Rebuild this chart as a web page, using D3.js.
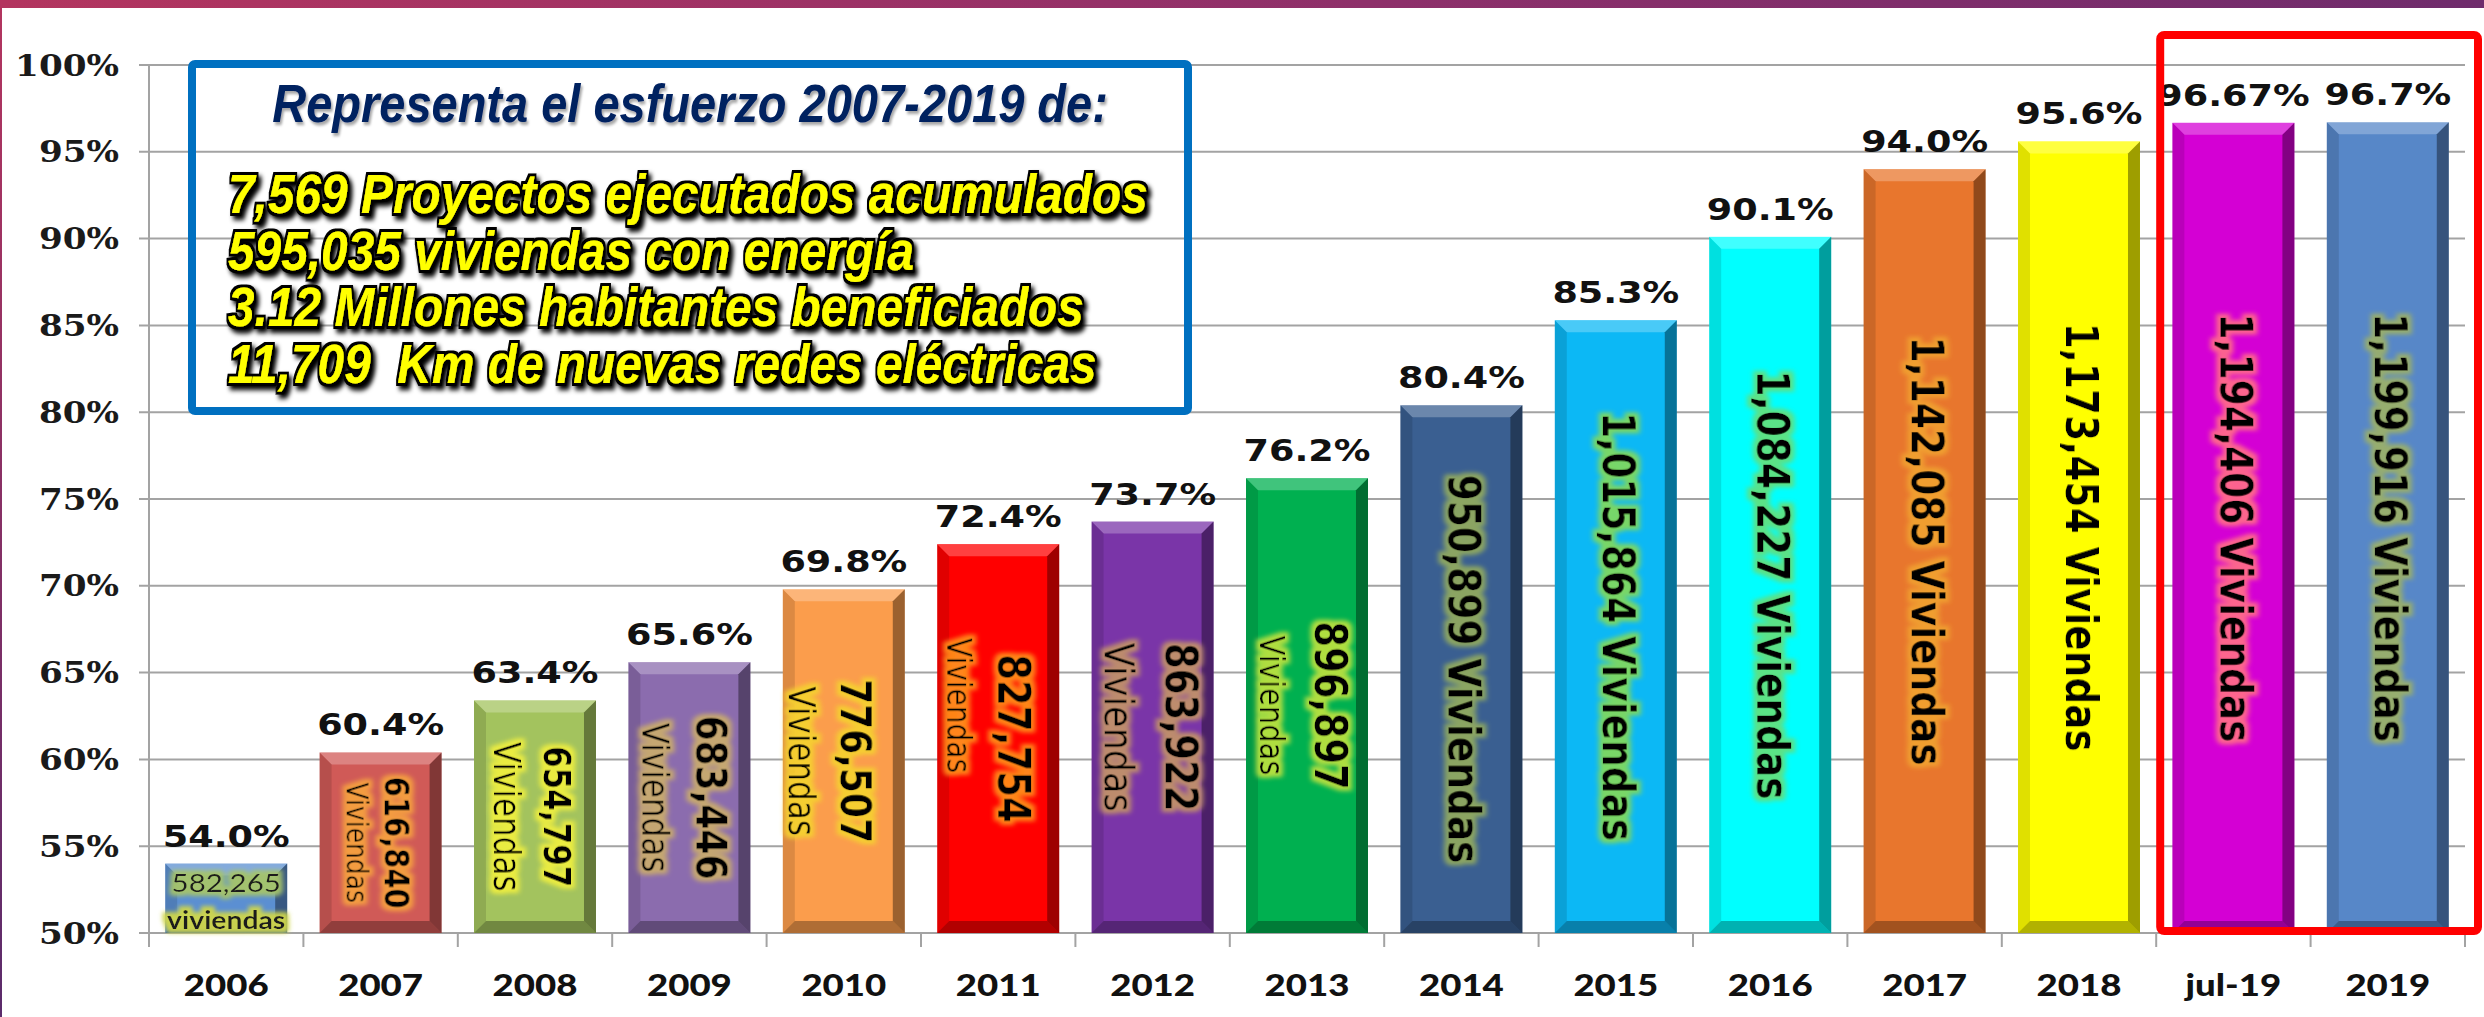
<!DOCTYPE html>
<html>
<head>
<meta charset="utf-8">
<script src="https://cdn.jsdelivr.net/npm/d3@7/dist/d3.min.js"></script>
<style>
  body { margin: 0; background: #fff; overflow: hidden; }
  svg { display: block; }
  text { white-space: pre; }
</style>
</head>
<body>
<svg id="chart"></svg>
<script>
// data
const categories = ["2006","2007","2008","2009","2010","2011","2012","2013","2014","2015","2016","2017","2018","jul-19","2019"]
const coverage = [54.0, 60.4, 63.4, 65.6, 69.8, 72.4, 73.7, 76.2, 80.4, 85.3, 90.1, 94.0, 95.6, 96.67, 96.7]
const coverageLabels = ["54.0%","60.4%","63.4%","65.6%","69.8%","72.4%","73.7%","76.2%","80.4%","85.3%","90.1%","94.0%","95.6%","96.67%","96.7%"]
const homes = ["582,265","616,840","654,797","683,446","776,507","827,754","863,922","896,897","950,899","1,015,864","1,084,227","1,142,085","1,173,454","1,194,406","1,199,916"]
const yTicks = [50, 55, 60, 65, 70, 75, 80, 85, 90, 95, 100]
const highlighted = ["jul-19", "2019"]

const summaryTitle = "Representa el esfuerzo 2007-2019 de:"
const summaryLines = [
  "7,569 Proyectos ejecutados acumulados",
  "595,035 viviendas con energía",
  "3.12 Millones habitantes beneficiados",
  "11,709  Km de nuevas redes eléctricas"
]

// styles
const barColors = ["#5b8fd2","#d05a57","#a3c35e","#8b6cae","#fb9d4c","#ff0000","#7a35a8","#00b050","#3a5f91","#0cb8f5","#00ffff","#e8762d","#ffff00","#d400d4","#5787c8"]
const glowColors = ["#a6c46a","#f5a040","#eeee40","#c8aa6e","#f5d030","#ff8c1a","#c0906a","#b8e040","#8fa860","#7ed860","#60e080","#f0a030","#ffff00","#ff6a8a","#9aaf6a"]
// two-line labels inside the smaller bars (font sizes and offsets from bar centre)
const twoLine = {
  "2007": {num: 29, viv: 25, dn: 16, dv: -24, vy: 0},
  "2008": {num: 31, viv: 31, dn: 21, dv: -29, vy: 0},
  "2009": {num: 36, viv: 31, dn: 22, dv: -35, vy: 0},
  "2010": {num: 36, viv: 31, dn: 12, dv: -43, vy: 0},
  "2011": {num: 37, viv: 28, dn: 15, dv: -40, vy: -33},
  "2012": {num: 37, viv: 35, dn: 28, dv: -33, vy: 0},
  "2013": {num: 37, viv: 29, dn: 23, dv: -35, vy: 0}
}

const W = 2484, H = 1017
const SX = 1.18   // the slide is stretched sideways, chart text too
const BOXSX = 0.87 // box text is the other way round: tall and narrow

const svg = d3.select("#chart").attr("width", W).attr("height", H)
const defs = svg.append("defs")

// slide frame
const band = defs.append("linearGradient").attr("id", "band")
band.append("stop").attr("offset", "0%").attr("stop-color", "#b3355f")
band.append("stop").attr("offset", "55%").attr("stop-color", "#8e306a")
band.append("stop").attr("offset", "100%").attr("stop-color", "#6f2c6c")
const edge = defs.append("linearGradient").attr("id", "edge").attr("x1", 0).attr("x2", 0).attr("y1", 0).attr("y2", 1)
edge.append("stop").attr("offset", "0%").attr("stop-color", "#b3355f")
edge.append("stop").attr("offset", "100%").attr("stop-color", "#5b2b6b")

function glow(id, color, r, blur) {
  const f = defs.append("filter").attr("id", id)
    .attr("x", "-30%").attr("y", "-30%").attr("width", "160%").attr("height", "160%")
  f.append("feMorphology").attr("in", "SourceAlpha").attr("operator", "dilate").attr("radius", r).attr("result", "d")
  f.append("feGaussianBlur").attr("in", "d").attr("stdDeviation", blur).attr("result", "b")
  f.append("feFlood").attr("flood-color", color).attr("flood-opacity", 0.95)
  f.append("feComposite").attr("in2", "b").attr("operator", "in").attr("result", "g")
  const m = f.append("feMerge")
  m.append("feMergeNode").attr("in", "g")
  m.append("feMergeNode").attr("in", "SourceGraphic")
}
glowColors.forEach((c, i) => glow("glow" + i, c, 3.5, 2.2))
glow("glowViv", "#cfd64a", 4, 2)

// black halo + drop shadow for the yellow lines
const ys = defs.append("filter").attr("id", "yellowShadow")
  .attr("x", "-5%").attr("y", "-30%").attr("width", "110%").attr("height", "160%")
ys.append("feMorphology").attr("in", "SourceAlpha").attr("operator", "dilate").attr("radius", 2.6).attr("result", "d")
ys.append("feOffset").attr("in", "d").attr("dx", 3).attr("dy", 4).attr("result", "o")
ys.append("feGaussianBlur").attr("in", "o").attr("stdDeviation", 2.5).attr("result", "b")
const ym = ys.append("feMerge")
ym.append("feMergeNode").attr("in", "b")
ym.append("feMergeNode").attr("in", "d")
ym.append("feMergeNode").attr("in", "SourceGraphic")

const ts = defs.append("filter").attr("id", "titleShadow")
ts.append("feDropShadow").attr("dx", 2).attr("dy", 3).attr("stdDeviation", 1.5).attr("flood-color", "#000").attr("flood-opacity", 0.35)

svg.append("rect").attr("x", 0).attr("y", 0).attr("width", W).attr("height", H).attr("fill", "#fff")
svg.append("rect").attr("x", 0).attr("y", 0).attr("width", W).attr("height", 8).attr("fill", "url(#band)")
svg.append("rect").attr("x", 0).attr("y", 0).attr("width", 2).attr("height", H).attr("fill", "url(#edge)")

// scales
const x = d3.scaleBand().domain(categories).range([149, 2465]).paddingInner(0.21).paddingOuter(0.105)
const y = d3.scaleLinear().domain([50, 100]).range([933, 65])
const step = x.step()
const gap = (step - x.bandwidth()) / 2

// gridlines + y labels
const grid = svg.append("g")
grid.selectAll("line").data(yTicks).enter().append("line")
  .attr("x1", 139).attr("x2", 2465)
  .attr("y1", d => y(d)).attr("y2", d => y(d))
  .attr("stroke", "#a3a3a3").attr("stroke-width", 2)
grid.append("line").attr("x1", 149).attr("x2", 149).attr("y1", y(100)).attr("y2", y(50) + 14)
  .attr("stroke", "#a3a3a3").attr("stroke-width", 2)
grid.selectAll(".xt").data(d3.range(categories.length + 1)).enter().append("line")
  .attr("class", "xt")
  .attr("x1", d => x.range()[0] + d * step).attr("x2", d => x.range()[0] + d * step)
  .attr("y1", y(50)).attr("y2", y(50) + 14)
  .attr("stroke", "#a3a3a3").attr("stroke-width", 2)

svg.append("g").selectAll("text").data(yTicks).enter().append("text")
  .attr("transform", d => `translate(119,${y(d)}) scale(${SX},1)`)
  .attr("text-anchor", "end").attr("dominant-baseline", "central")
  .attr("font-family", "DejaVu Serif").attr("font-weight", "bold").attr("font-size", 29)
  .attr("fill", "#1a1a1a")
  .text(d => d + "%")

// x labels
svg.append("g").selectAll("text").data(categories).enter().append("text")
  .attr("transform", d => `translate(${x(d) + x.bandwidth() / 2},996) scale(${SX},1)`)
  .attr("text-anchor", "middle")
  .attr("font-family", "Lato").attr("font-weight", "900").attr("font-size", 31)
  .attr("fill", "#111")
  .text(d => d)

// summary box
const box = svg.append("g")
box.append("rect").attr("x", 192).attr("y", 64).attr("width", 996).attr("height", 347)
  .attr("rx", 3).attr("fill", "none").attr("stroke", "#0070c0").attr("stroke-width", 8)
box.append("text")
  .attr("transform", `translate(690,122) scale(${BOXSX},1)`)
  .attr("text-anchor", "middle")
  .attr("font-family", "Liberation Sans").attr("font-weight", "bold").attr("font-style", "italic")
  .attr("font-size", 54).attr("fill", "#002060").attr("filter", "url(#titleShadow)")
  .text(summaryTitle)
box.selectAll(".line").data(summaryLines).enter().append("text")
  .attr("class", "line")
  .attr("transform", (d, i) => `translate(228,${213 + i * 56.7}) scale(${BOXSX},1)`)
  .attr("font-family", "Liberation Sans").attr("font-weight", "bold").attr("font-style", "italic")
  .attr("font-size", 55).attr("fill", "#ffff00").attr("filter", "url(#yellowShadow)")
  .text(d => d)

// bars with bevel
const bev = 12
const bars = svg.append("g").selectAll("g").data(categories).enter().append("g")
bars.each(function (c, i) {
  const g = d3.select(this)
  const x0 = x(c), x1 = x(c) + x.bandwidth(), y0 = y(coverage[i]), y1 = y(50)
  g.append("rect").attr("x", x0).attr("y", y0).attr("width", x1 - x0).attr("height", y1 - y0).attr("fill", barColors[i])
  const face = (pts, fill, op) => g.append("polygon").attr("points", pts.map(p => p.join(",")).join(" ")).attr("fill", fill).attr("opacity", op)
  face([[x0, y0], [x1, y0], [x1 - bev, y0 + bev], [x0 + bev, y0 + bev]], "#fff", 0.25)
  face([[x1, y0], [x1, y1], [x1 - bev, y1 - bev], [x1 - bev, y0 + bev]], "#000", 0.38)
  face([[x0, y1], [x1, y1], [x1 - bev, y1 - bev], [x0 + bev, y1 - bev]], "#000", 0.3)
  face([[x0, y0], [x0 + bev, y0 + bev], [x0 + bev, y1 - bev], [x0, y1]], "#000", 0.12)
})

// percentage labels
svg.append("g").selectAll("text").data(categories).enter().append("text")
  .attr("transform", (d, i) => `translate(${x(d) + x.bandwidth() / 2},${y(coverage[i]) - 17}) scale(${SX},1)`)
  .attr("text-anchor", "middle")
  .attr("font-family", "DejaVu Sans").attr("font-weight", "bold").attr("font-size", 31)
  .attr("fill", "#111")
  .text((d, i) => coverageLabels[i])

// labels inside the bars
const inner = svg.append("g")
categories.forEach((c, i) => {
  const cx = x(c) + x.bandwidth() / 2
  const mid = (y(coverage[i]) + y(50)) / 2
  if (i === 0) {
    inner.append("text")
      .attr("transform", `translate(${cx},${y(coverage[i]) + 19}) scale(${SX},1)`)
      .attr("text-anchor", "middle").attr("dominant-baseline", "central")
      .attr("font-family", "Lato").attr("font-size", 25).attr("fill", "#1a1a1a")
      .attr("filter", "url(#glow0)")
      .text(homes[i])
    inner.append("text")
      .attr("transform", `translate(${cx},${y(50) - 13}) scale(${SX},1)`)
      .attr("text-anchor", "middle").attr("dominant-baseline", "central")
      .attr("font-family", "Lato").attr("font-weight", "bold").attr("font-size", 24).attr("fill", "#1a1a1a")
      .attr("filter", "url(#glowViv)")
      .text("viviendas")
  } else if (twoLine[c]) {
    const s = twoLine[c]
    inner.append("text")
      .attr("transform", `translate(${cx + s.dn},${mid}) rotate(90) scale(1,${SX})`)
      .attr("text-anchor", "middle").attr("dominant-baseline", "central")
      .attr("font-family", "DejaVu Sans").attr("font-weight", "bold").attr("font-size", s.num).attr("fill", "#000")
      .attr("filter", `url(#glow${i})`)
      .text(homes[i])
    inner.append("text")
      .attr("transform", `translate(${cx + s.dv},${mid + s.vy}) rotate(90) scale(1,${SX})`)
      .attr("text-anchor", "middle").attr("dominant-baseline", "central")
      .attr("font-family", "DejaVu Sans").attr("font-size", s.viv).attr("fill", "#000")
      .attr("filter", `url(#glow${i})`)
      .text("Viviendas")
  } else {
    inner.append("text")
      .attr("transform", `translate(${cx + 2},${mid}) rotate(90) scale(1,${SX})`)
      .attr("text-anchor", "middle").attr("dominant-baseline", "central")
      .attr("font-family", "DejaVu Sans").attr("font-weight", "bold").attr("font-size", 37.5).attr("fill", "#000")
      .attr("filter", `url(#glow${i})`)
      .text(homes[i] + " Viviendas")
  }
})

// red frame around the last two bars (band edges)
const hx0 = x(highlighted[0]) - gap + 4
const hx1 = x(highlighted[1]) + x.bandwidth() + gap + 13
svg.append("rect")
  .attr("x", hx0).attr("y", y(100) - 30)
  .attr("width", hx1 - hx0).attr("height", y(50) - 2 - (y(100) - 30))
  .attr("rx", 4).attr("fill", "none").attr("stroke", "#ff0000").attr("stroke-width", 8)
</script>
</body>
</html>
